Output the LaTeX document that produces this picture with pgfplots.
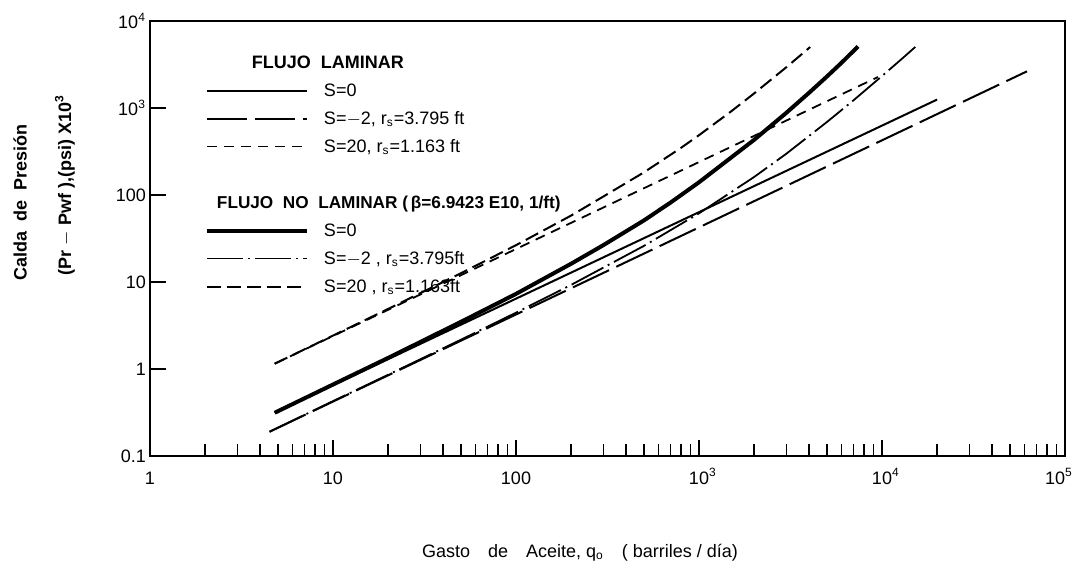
\documentclass[border=0pt]{standalone}
\usepackage{pgfplots}
\pgfplotsset{compat=1.18}
\usepackage{fontspec}
\setmainfont{Liberation Sans}

% uniform strut for every legend row (14pt, centred on the cap height)
\newcommand\ls{\rule[-3.8pt]{0pt}{14pt}}
% power-of-ten label whose exponent hangs to the right
\newcommand\pt[1]{10\rlap{\textsuperscript{#1}}}

\begin{document}
\begin{tikzpicture}
\useasboundingbox (-75pt,-56pt) rectangle (463pt,228pt);
\begin{axis}[
  at={(0pt,0pt)}, anchor=south west,
  scale only axis, width=457.5pt, height=217.5pt,
  xmode=log, ymode=log,
  xmin=1, xmax=1e5, ymin=0.1, ymax=1e4,
  xtick={1,10,100,1000,10000,100000},
  xticklabels={1,10,100,\pt{3},\pt{4},{\hspace*{-6pt}10\textsuperscript{5}}},
  ytick={0.1,1,10,100,1000,10000},
  yticklabels={0.1,1,10,100,10\textsuperscript{3},10\textsuperscript{4}},
  yminorticks=false,
  tick pos=left, tick align=inside,
  major tick length=8pt, minor tick length=6pt,
  every tick/.append style={black, line width=0.8pt},
  axis line style={line width=1.4pt},
  tick label style={font=\fontsize{9}{10}\selectfont},
  xticklabel style={yshift=-4pt, text height=6.5pt, text depth=0pt},
  yticklabel style={xshift=1.5pt},
  clip=false,
  legend cell align=left,
  legend image code/.code={\draw[#1] (0pt,0pt) -- (50pt,0pt);},
  legend style={draw=none, fill=none, at={(0,1)}, anchor=north west,
    xshift=27.5pt, yshift=-13.75pt, inner sep=0pt, outer sep=0pt,
    row sep=0pt, column sep=7.5pt, font=\fontsize{9}{10}\selectfont,
    nodes={inner sep=0pt, outer sep=0pt, text depth=3.8pt}},
]

% ---- laminar flow ----
\addlegendimage{empty legend}
\addlegendentry{\makebox[0pt][l]{\hspace*{-36.5pt}\textbf{FLUJO\ \ LAMINAR}}\ls}

\addplot[black, line width=1pt] coordinates {(4.8,0.314) (20000,1250)};
\addlegendentry{S=0\ls}

\addplot[black, line width=1pt, dash pattern=on 20pt off 4pt] coordinates {(4.5,0.19) (62000,2640)};
\addlegendentry{S=$-$2, r\textsubscript{s}=3.795 ft\ls}

\addplot[black, line width=0.9pt, dash pattern=on 5pt off 3.5pt] coordinates {(4.8,1.15) (9500,2270)};
\addlegendentry{S=20, r\textsubscript{s}=1.163 ft\ls}

\addlegendimage{empty legend}
\addlegendentry{\ls}

% ---- non-laminar flow ----
\addlegendimage{empty legend}
\addlegendentry{\makebox[0pt][l]{\hspace*{-54pt}\textbf{\fontsize{8.6}{10}\selectfont FLUJO\ \ NO\ \ LAMINAR (\,β=6.9423 E10, 1/ft)}}\ls}

\addplot[black, line width=2pt] coordinates {
  (4.8,0.314) (10,0.663) (20,1.34) (50,3.48) (100,7.3) (200,16.2)
  (300,26.5) (500,51) (700,82) (1000,140) (1500,270) (2000,430)
  (3000,880) (4000,1500) (5000,2300) (6000,3300) (7400,5100)};
\addlegendentry{S=0\ls}

\addplot[black, line width=0.9pt, dash pattern=on 18pt off 2.5pt on 1pt off 2.5pt] coordinates {
  (4.5,0.19) (10,0.427) (20,0.858) (50,2.17) (100,4.44) (200,9.26)
  (500,26) (1000,61.5) (2000,161) (3000,298) (5000,690) (7000,1230)
  (10000,2330) (13000,3760) (15200,5030)};
\addlegendentry{S=$-$2 , r\textsubscript{s}=3.795ft\ls}

\addplot[black, line width=1pt, dash pattern=on 7pt off 3pt] coordinates {
  (4.8,1.15) (10,2.42) (20,4.9) (50,12.6) (100,26.5) (200,58) (300,96)
  (500,182) (800,350) (1000,487) (1500,916) (2000,1470) (3000,2940)
  (4050,5020)};
\addlegendentry{S=20 , r\textsubscript{s}=1.163ft\ls}

% axis titles
\node[rotate=90, font=\bfseries\fontsize{9}{10}\selectfont] at (axis description cs:-0.142,0.582) {Calda\ \ de\ \ Presión};
\node[rotate=90, font=\bfseries\fontsize{9}{10}\selectfont] at (axis description cs:-0.093,0.623) {(Pr $-$ Pwf ),(psi) X10\textsuperscript{3}};
\node[font=\fontsize{9}{10}\selectfont] at (axis description cs:0.470,-0.223) {Gasto\quad de\quad Aceite, q\textsubscript{o}\quad (\ barriles / día)};
\end{axis}
\end{tikzpicture}
\end{document}
